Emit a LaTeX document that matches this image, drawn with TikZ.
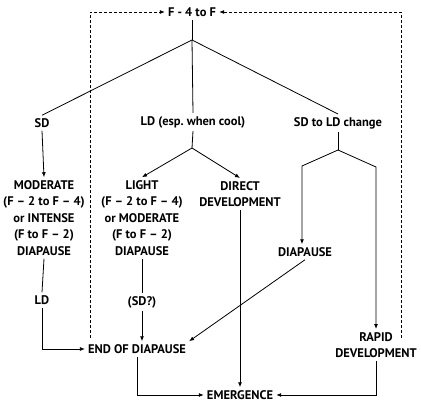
\documentclass[tikz,border=0pt]{standalone}
\usepackage{fontspec}
\setmainfont{PT Sans}
\usetikzlibrary{arrows.meta, positioning}

\begin{document}
\begin{tikzpicture}[
    x=1pt, y=-1pt,
    label/.style={font=\bfseries\fontsize{12.5}{16.5}\selectfont, align=center, inner sep=3pt},
    arrow/.style={-{Latex[length=5pt, width=4pt]}, line width=0.8pt},
    line/.style={line width=0.8pt},
    loop/.style={-{Latex[length=5pt, width=4pt]}, line width=0.8pt, dash pattern=on 3pt off 2pt},
]
\useasboundingbox (0,0) rectangle (421,404);

%% NODES
    % start
    \node[label] (top) at (192,12) {F - 4 to F};
    \coordinate (split_top) at (192,40);

    % photoperiods
    \node[label] (sd) at (42,123) {SD};
    \node[label] (ld) at (193,122) {LD (esp.\ when cool)};
    \node[label] (change) at (338,123) {SD to LD change};

    % responses
    \node[label] (moderate) at (44,218) {MODERATE\\(F -- 2 to F -- 4)\\or INTENSE\\(F to F -- 2)\\DIAPAUSE};
    \coordinate (split_ld) at (192,148);
    \node[label] (light) at (142,218) {LIGHT\\(F -- 2 to F -- 4)\\or MODERATE\\(F to F -- 2)\\DIAPAUSE};
    \node[label] (direct) at (240,194) {DIRECT\\DEVELOPMENT};
    \coordinate (split_change) at (338,150);
    \coordinate (change_l) at (302,166);
    \coordinate (change_r) at (376,167);
    \node[label] (diapause) at (305,252) {DIAPAUSE};
    \node[label] (rapid) at (376,345) {RAPID\\DEVELOPMENT};

    % conditions
    \node[label] (ld_mod) at (42,300) {LD};
    \node[label] (sd_light) at (142,302) {(SD?)};

    % outcomes
    \node[label] (end_diapause) at (137,349) {END OF DIAPAUSE};
    \node[label] (emergence) at (240,395) {EMERGENCE};

    % loop points
    \coordinate (loop_left) at (90,338);
    \coordinate (loop_right) at (401,338);

%% CONNECTIONS
    % start -> photoperiods
    \draw[line] (top.south) -- (split_top);
    \draw[line] (split_top) -- (sd.north);
    \draw[line] (split_top) -- (ld.north);
    \draw[line] (split_top) -- (change.north);

    % SD
    \draw[arrow] (sd.south) -- (moderate.north);
    \draw[line] (moderate.south) -- (ld_mod.north);
    \draw[arrow] (ld_mod.south) |- (end_diapause.west);

    % LD
    \draw[line] (ld.south) -- (split_ld);
    \draw[arrow] (split_ld) -- (light.north);
    \draw[arrow] (split_ld) -- (direct.north);
    \draw[line] (light.south) -- (sd_light.north);
    \draw[arrow] (sd_light.south) -- (sd_light.south |- end_diapause.north);
    \draw[arrow] (direct.south) -- (emergence.north);

    % SD to LD change
    \draw[line] (change.south) -- (split_change);
    \draw[arrow] (split_change) -- (change_l) -- (change_l |- diapause.north);
    \draw[arrow] (split_change) -- (change_r) -- (rapid.north);
    \draw[arrow] (diapause.south) -- (end_diapause.north east);

    % outcomes -> emergence
    \draw[arrow] (end_diapause.south) |- (emergence.west);
    \draw[arrow] (rapid.south) |- (emergence.east);

    % back to start
    \draw[loop] (loop_left) |- (top.west);
    \draw[loop] (loop_right) |- (top.east);

\end{tikzpicture}
\end{document}
